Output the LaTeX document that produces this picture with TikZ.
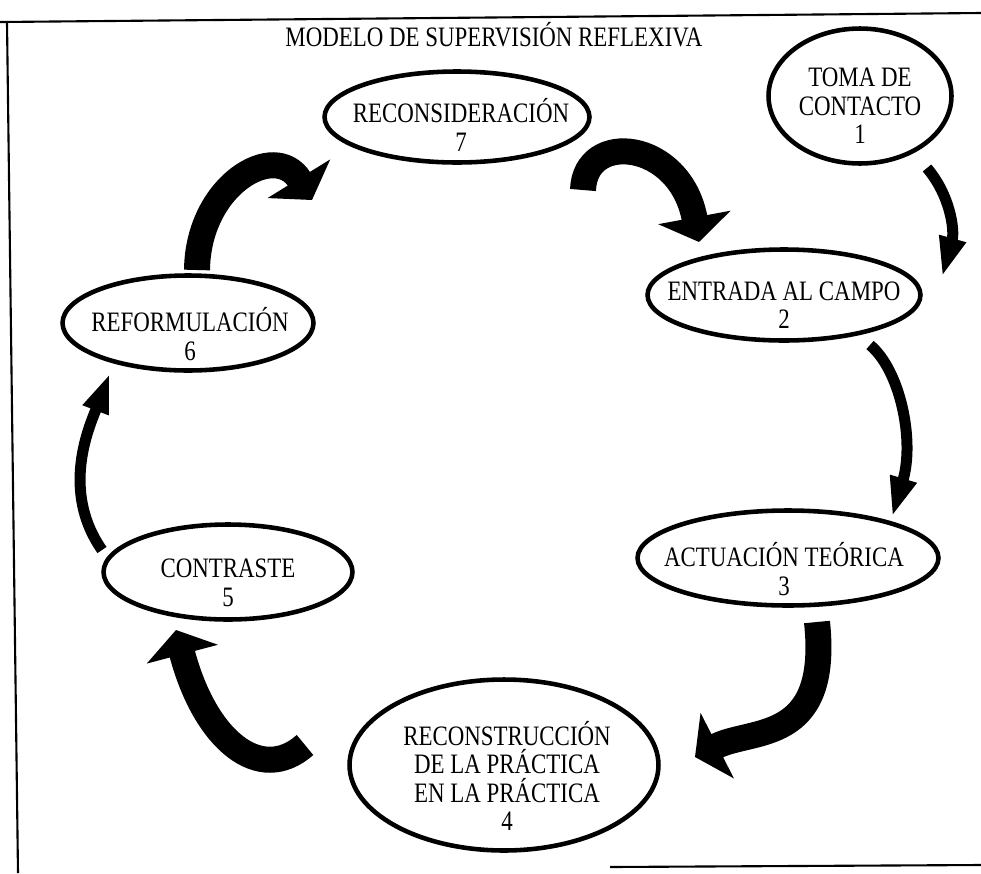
\documentclass[tikz,border=0pt]{standalone}
\usepackage{fontspec}
\setmainfont{Liberation Serif}[FakeStretch=0.815]
\usetikzlibrary{shapes,arrows.meta,calc}

\begin{document}
\begin{tikzpicture}[x=0.02cm, y=-0.02cm,
    block_oval/.style ={ellipse, draw=black, line width=2.6pt, fill=white,
      inner sep=0pt},
    block_text/.style ={rectangle, draw=none, align=center, inner sep=0pt,
      font=\fontsize{16pt}{16.2pt}\selectfont},
    frame/.style ={draw, line width=1.2pt},
    line_big/.style ={draw, line width=0.52cm,
      -{Triangle[width=1.45cm,length=0.5cm]}},
    line_thin/.style ={draw, line width=0.22cm,
      -{Triangle[width=0.5cm,length=0.8cm]}}]
    \useasboundingbox (0,0) rectangle (981,873);
    % border of the page
    \path[frame] (0,22) -- (981,13);
    \path[frame] (7,22) -- (18,873);
    \path[frame] (610,867) -- (981,865);
    \node [block_text] (title) at (494,35) {MODELO DE SUPERVISIÓN REFLEXIVA};
    % the seven stages
    \node [block_oval, minimum width=3.66cm, minimum height=2.7cm] (toma) at (860,96) {};
    \node [block_oval, minimum width=5.46cm, minimum height=1.82cm] (entrada) at (784,295) {};
    \node [block_oval, minimum width=6.02cm, minimum height=1.9cm] (actuacion) at (788,558) {};
    \node [block_oval, minimum width=6.18cm, minimum height=3.42cm] (reconst) at (504,765) {};
    \node [block_oval, minimum width=4.98cm, minimum height=1.9cm] (contraste) at (228,572) {};
    \node [block_oval, minimum width=5.02cm, minimum height=1.9cm] (reform) at (188,323) {};
    \node [block_oval, minimum width=5.3cm, minimum height=1.82cm] (reconsid) at (457,117) {};
    % their texts
    \node [block_text] (toma_t) at ($(toma)+(0,10)$) {TOMA DE\\CONTACTO\\1};
    \node [block_text] (entrada_t) at ($(entrada)+(0,10)$) {ENTRADA AL CAMPO\\2};
    \node [block_text] (actuacion_t) at ($(actuacion)+(-4,11)$) {ACTUACIÓN TEÓRICA\\3};
    \node [block_text] (reconst_t) at ($(reconst)+(3,11)$) {RECONSTRUCCIÓN\\DE LA PRÁCTICA\\EN LA PRÁCTICA\\4};
    \node [block_text] (contraste_t) at ($(contraste)+(0,11)$) {CONTRASTE\\5};
    \node [block_text] (reform_t) at ($(reform)+(2,11)$) {REFORMULACIÓN\\6};
    \node [block_text] (reconsid_t) at ($(reconsid)+(4,8)$) {RECONSIDERACIÓN\\7};
    % free ends of the curved arrows
    \coordinate (a12) at (927,168);  \coordinate (b12) at (942,277);
    \coordinate (a23) at (870,345);  \coordinate (b23) at (892,517);
    \coordinate (a34) at (817,622);  \coordinate (b34) at (695,757);
    \coordinate (a45) at (305,745);  \coordinate (b45) at (176,630);
    \coordinate (a56) at (102,550);  \coordinate (b56) at (110,373);
    \coordinate (a67) at (197,270);  \coordinate (b67) at (312,200);
    \coordinate (a72) at (583,190);  \coordinate (b72) at (699,242);
    % connecting the stages
    \path[line_thin] (a12) .. controls (950,195) and (955,230) .. (b12);
    \path[line_thin] (a23) .. controls (900,370) and (915,440) .. (b23);
    \path[line_big] (a34) .. controls (830,745) and (752,728) .. (b34);
    \path[line_big] (a45) .. controls (260,785) and (205,740) .. (b45);
    \path[line_thin] (a56) .. controls (60,490) and (90,425) .. (b56);
    \path[line_big] (a67) .. controls (198,185) and (275,140) .. (b67);
    \path[line_big] (a72) .. controls (585,130) and (680,140) .. (b72);
\end{tikzpicture}
\end{document}
